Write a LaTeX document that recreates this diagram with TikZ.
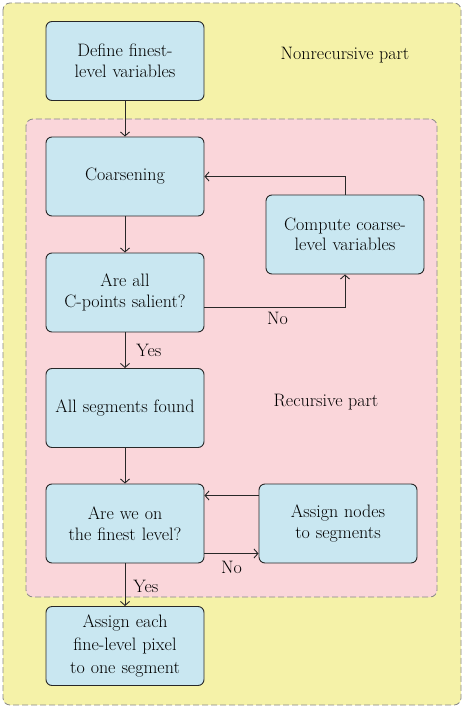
\documentclass[tikz,border=0pt]{standalone}
\usepackage{tikz}
\usetikzlibrary{positioning, arrows.meta}

\definecolor{partyellow}{RGB}{245,242,168}
\definecolor{partpink}{RGB}{250,214,218}
\definecolor{boxblue}{RGB}{201,231,241}
\definecolor{framegray}{RGB}{135,135,135}
\definecolor{inkgray}{RGB}{40,40,40}

\tikzset{
	stepbox/.style={draw=inkgray, fill=boxblue, rounded corners=6pt, line width=0.9pt,
		minimum width=158pt, minimum height=79pt, text width=156pt, align=center,
		font=\fontsize{18}{20.5}\selectfont, inner sep=0pt},
	partframe/.style={draw=framegray, dash pattern=on 6pt off 3pt, rounded corners=7pt, line width=0.8pt},
	flow/.style={-{Straight Barb[length=4pt, width=9pt]}, draw=inkgray, line width=0.9pt},
	lbl/.style={font=\fontsize{18}{20}\selectfont, inner sep=1pt}
}

\begin{document}
\begin{tikzpicture}[x=1pt, y=1pt]
	\useasboundingbox (0,0) rectangle (464,-708);
	\draw[partframe, fill=partyellow] (3,-3) rectangle (461,-705);
	\draw[partframe, fill=partpink] (26,-119) rectangle (437,-597);

	\node[stepbox] (define) at (125,-61) {Define finest-\\level variables};
	\node[stepbox] (coarsen) at (125,-176.5) {Coarsening};
	\node[stepbox] (salient) at (125,-292.5) {Are all\\C-points salient?};
	\node[stepbox] (found) at (125,-408) {All segments found};
	\node[stepbox] (finest) at (125,-523.5) {Are we on\\the finest level?};
	\node[stepbox] (pixel) at (125,-646) {Assign each\\[2.5pt]fine-level pixel\\[2.5pt]to one segment};
	\node[stepbox] (compute) at (345,-234.5) {Compute coarse-\\level variables};
	\node[stepbox] (assign) at (338,-523.5) {Assign nodes\\to segments};

	\node[lbl] (nonrec) at (345,-55) {Nonrecursive part};
	\node[lbl] (rec) at (326,-402) {Recursive part};

	\draw[flow] (define) -- (coarsen);
	\draw[flow] (coarsen) -- (salient);
	\draw[flow] (salient) -- node[lbl, right=10pt] {Yes} (found);
	\draw[flow] ([yshift=-15pt]salient.east) -| node[lbl, pos=0.26, below=3pt] {No} (compute.south);
	\draw[flow] (compute.north) |- (coarsen.east);
	\draw[flow] (found) -- (finest);
	\draw[flow] ([yshift=-30pt]finest.east) -- node[lbl, below=6pt] {No} ([yshift=-30pt]assign.west);
	\draw[flow] ([yshift=28pt]assign.west) -- ([yshift=28pt]finest.east);
	\draw[flow] (finest) -- node[lbl, pos=0.55, right=7pt] {Yes} (pixel);
\end{tikzpicture}
\end{document}
